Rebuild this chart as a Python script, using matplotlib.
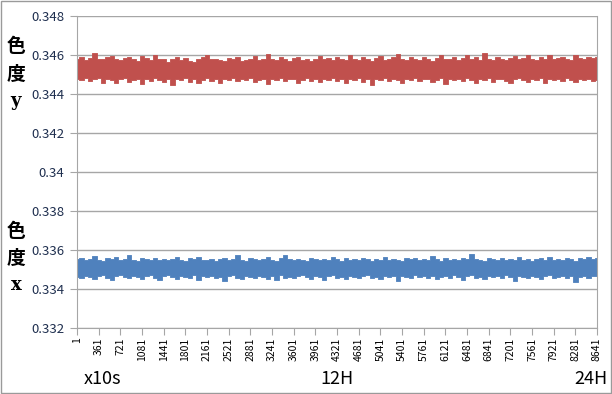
import numpy as np
import matplotlib

matplotlib.use("Agg")
import matplotlib.pyplot as plt
from matplotlib.patches import Rectangle

plt.rcParams["font.family"] = ["Noto Sans CJK JP", "DejaVu Sans"]

# sample index (x10s) range of the trace
X_FIRST, X_LAST = 1, 8641
tick_labels = [1, 361, 721, 1081, 1441, 1801, 2161, 2521, 2881, 3241, 3601, 3961,
               4321, 4681, 5041, 5401, 5761, 6121, 6481, 6841, 7201, 7561, 7921,
               8281, 8641]

# envelope readings of the noisy traces, in units of 1e-5
# chromaticity y: upper / lower edge
red_hi = [34582, 34590, 34575, 34585, 34612, 34580, 34578, 34588, 34595, 34580,
          34572, 34585, 34590, 34578, 34570, 34595, 34583, 34575, 34598, 34580,
          34578, 34565, 34580, 34592, 34575, 34583, 34570, 34566, 34580, 34588,
          34600, 34578, 34582, 34574, 34570, 34585, 34578, 34590, 34568, 34576,
          34582, 34595, 34575, 34580, 34604, 34578, 34572, 34588, 34580, 34570,
          34585, 34592, 34576, 34582, 34570, 34580, 34596, 34578, 34584, 34572,
          34590, 34580, 34575, 34600, 34582, 34574, 34588, 34578, 34570, 34585,
          34596, 34576, 34582, 34590, 34605, 34580, 34574, 34588, 34582, 34576,
          34592, 34580, 34570, 34585, 34598, 34578, 34582, 34590, 34576, 34584,
          34602, 34580, 34588, 34575, 34610, 34582, 34576, 34590, 34580, 34572,
          34586, 34595, 34578, 34584, 34600, 34580, 34576, 34590, 34582, 34598,
          34578, 34586, 34592, 34580, 34575, 34600, 34584, 34578, 34592, 34586,
          34588]
red_lo = [34478, 34470, 34482, 34465, 34476, 34480, 34458, 34478, 34470, 34455,
          34475, 34480, 34462, 34472, 34478, 34450, 34476, 34468, 34480, 34472,
          34460, 34478, 34445, 34475, 34470, 34480, 34462, 34476, 34455, 34472,
          34480, 34468, 34476, 34458, 34478, 34472, 34482, 34465, 34476, 34470,
          34480, 34460, 34474, 34478, 34452, 34476, 34470, 34480, 34465, 34475,
          34478, 34458, 34472, 34480, 34468, 34476, 34462, 34478, 34470, 34482,
          34466, 34476, 34455, 34478, 34470, 34480, 34462, 34475, 34448, 34478,
          34472, 34480, 34465, 34476, 34470, 34458, 34478, 34472, 34480, 34466,
          34475, 34478, 34460, 34472, 34480, 34452, 34476, 34470, 34478, 34465,
          34480, 34472, 34458, 34476, 34470, 34480, 34462, 34475, 34478, 34468,
          34455, 34476, 34480, 34470, 34462, 34478, 34472, 34480, 34458, 34475,
          34470, 34478, 34465, 34480, 34472, 34460, 34476, 34470, 34478, 34465,
          34470]

# chromaticity x: upper / lower edge
blue_hi = [33555, 33560, 33548, 33552, 33570, 33550, 33545, 33558, 33552, 33562,
           33548, 33555, 33575, 33550, 33545, 33558, 33552, 33548, 33560, 33550,
           33556, 33548, 33552, 33562, 33550, 33545, 33558, 33552, 33566, 33548,
           33550, 33556, 33545, 33552, 33560, 33548, 33555, 33572, 33550, 33546,
           33558, 33552, 33548, 33556, 33562, 33550, 33545, 33558, 33575, 33552,
           33548, 33556, 33550, 33545, 33560, 33552, 33548, 33556, 33550, 33565,
           33552, 33546, 33558, 33550, 33555, 33548, 33560, 33552, 33545, 33556,
           33550, 33562, 33548, 33555, 33550, 33546, 33558, 33552, 33560, 33548,
           33555, 33550, 33568, 33552, 33546, 33558, 33550, 33555, 33548, 33560,
           33552, 33580, 33556, 33550, 33545, 33558, 33552, 33548, 33560, 33550,
           33555, 33548, 33562, 33550, 33556, 33545, 33552, 33558, 33550, 33566,
           33548, 33555, 33550, 33560, 33552, 33546, 33558, 33552, 33562, 33555,
           33560]
blue_lo = [33462, 33455, 33468, 33460, 33450, 33466, 33470, 33458, 33448, 33465,
           33470, 33460, 33455, 33468, 33462, 33452, 33465, 33470, 33458, 33446,
           33465, 33470, 33460, 33452, 33468, 33462, 33455, 33470, 33445, 33465,
           33460, 33468, 33455, 33462, 33440, 33465, 33470, 33458, 33450, 33466,
           33462, 33455, 33468, 33460, 33452, 33465, 33448, 33470, 33458, 33462,
           33455, 33466, 33470, 33460, 33452, 33468, 33462, 33445, 33465, 33470,
           33458, 33464, 33450, 33468, 33462, 33455, 33466, 33470, 33458, 33462,
           33452, 33468, 33460, 33465, 33442, 33468, 33462, 33455, 33470, 33460,
           33465, 33458, 33468, 33450, 33462, 33466, 33455, 33470, 33460, 33448,
           33465, 33470, 33458, 33462, 33452, 33468, 33460, 33465, 33455, 33470,
           33462, 33440, 33466, 33460, 33455, 33468, 33462, 33450, 33465, 33470,
           33458, 33462, 33468, 33455, 33465, 33438, 33462, 33468, 33458, 33465,
           33465]

RED = "#C0504D"
BLUE = "#4F81BD"
GRID = "#A6A6A6"
TICK_COL = "#1F2F4F"

fig = plt.figure(figsize=(6.12, 3.94), dpi=100)
ax = fig.add_axes([77 / 612, 1 - 328 / 394, 520 / 612, 312 / 394])

for hi, lo, col in [(red_hi, red_lo, RED), (blue_hi, blue_lo, BLUE)]:
    hi = np.array(hi) * 1e-5
    lo = np.array(lo) * 1e-5
    x = np.linspace(X_FIRST, X_LAST, len(hi))
    ax.fill_between(x, lo, hi, step="mid", color=col, lw=0.6, edgecolor=col)

ax.set_xlim(X_FIRST, X_LAST)
ax.set_ylim(0.332, 0.348)
ax.set_yticks(np.arange(0.332, 0.3481, 0.002))
ax.set_yticklabels(["0.332", "0.334", "0.336", "0.338", "0.34", "0.342",
                    "0.344", "0.346", "0.348"])
ax.set_xticks(tick_labels)
ax.set_xticklabels([str(t) for t in tick_labels], rotation=90, fontsize=7.5)
ax.tick_params(axis="y", colors=GRID, labelcolor=TICK_COL, labelsize=9.5, length=5, pad=4)
ax.tick_params(axis="x", colors=GRID, labelcolor="black", length=5, pad=2)
ax.grid(axis="y", color=GRID, lw=1)
ax.set_axisbelow(True)
ax.spines["top"].set_visible(False)
for side in ["left", "bottom", "right"]:
    ax.spines[side].set_color(GRID)

# stacked axis captions on the left
for ys, letter in [((47, 74, 101), "y"), ((231, 258, 285), "x")]:
    fig.text(16 / 612, 1 - ys[0] / 394, "色", fontsize=13.5, ha="center", va="center", weight="bold")
    fig.text(16 / 612, 1 - ys[1] / 394, "度", fontsize=13.5, ha="center", va="center", weight="bold")
    fig.text(16 / 612, 1 - ys[2] / 394, letter, fontsize=13, ha="center", va="center",
             weight="bold", family=["DejaVu Serif"])

fig.text(102 / 612, 1 - 379 / 394, "x10s", fontsize=13, ha="center", va="center")
fig.text(337 / 612, 1 - 379 / 394, "12H", fontsize=13, ha="center", va="center")
fig.text(591 / 612, 1 - 379 / 394, "24H", fontsize=13, ha="center", va="center")

fig.patches.append(Rectangle((1 / 612, 1 / 394), 610 / 612, 392 / 394, transform=fig.transFigure,
                             fill=False, edgecolor="#9A9A9A", lw=1))

fig.savefig("out.png", dpi=100)
